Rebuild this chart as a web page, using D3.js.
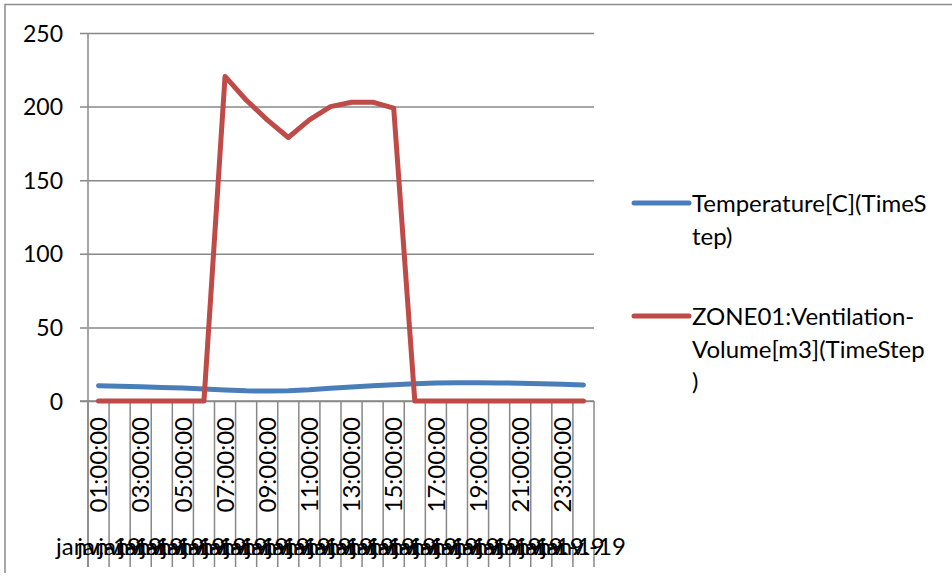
<!DOCTYPE html>
<html>
<head>
<meta charset="utf-8">
<script src="https://cdn.jsdelivr.net/npm/d3@7"></script>
<style>
  html, body { margin: 0; padding: 0; background: #fff; }
  svg { display: block; }
  text { font-family: Lato, "Open Sans", sans-serif; fill: #000; }
</style>
</head>
<body>
<svg id="chart" width="952" height="578"></svg>
<script>
// Hourly categories (inner level) and their date (outer level)
const hours = ["01:00:00","02:00:00","03:00:00","04:00:00","05:00:00","06:00:00",
  "07:00:00","08:00:00","09:00:00","10:00:00","11:00:00","12:00:00",
  "13:00:00","14:00:00","15:00:00","16:00:00","17:00:00","18:00:00",
  "19:00:00","20:00:00","21:00:00","22:00:00","23:00:00","24:00:00"];
const dates = ["janv.-19","janv.-19","janv.-19","janv.-19","janv.-19","janv.-19",
  "janv.-19","janv.-19","janv.-19","janv.-19","janv.-19","janv.-19",
  "janv.-19","janv.-19","janv.-19","janv.-19","janv.-19","janv.-19",
  "janv.-19","janv.-19","janv.-19","janv.-19","janv.-19","janv.-19"];

// Series values
const temperature = [10.4, 10.0, 9.6, 9.2, 8.8, 8.1, 7.5, 6.9, 6.8, 7.0, 7.6, 8.6,
  9.5, 10.3, 11.0, 11.8, 12.2, 12.4, 12.4, 12.3, 12.1, 11.8, 11.4, 10.9];
const ventilation = [0, 0, 0, 0, 0, 0, 220.5, 204.5, 191, 179, 191, 200,
  203, 203, 199, 0, 0, 0, 0, 0, 0, 0, 0, 0];

const yTicks = [0, 50, 100, 150, 200, 250];

const seriesNames = ["Temperature[C](TimeStep)", "ZONE01:Ventilation-Volume[m3](TimeStep)"];
const legendLines = [
  ["Temperature[C](TimeS", "tep)"],
  ["ZONE01:Ventilation-", "Volume[m3](TimeStep", ")"]
];
const seriesColors = ["#4A7EBB", "#BE4B48"];

const svg = d3.select("#chart");
const gridColor = "#888888";
const tickFont = 23;
const labelFont = 24;

// Outer chart frame
svg.append("path")
  .attr("d", "M5,573V4.5H952")
  .attr("fill", "none")
  .attr("stroke", "#8c8c8c")
  .attr("stroke-width", 1.5);

const plotLeft = 88, plotRight = 594, plotTop = 33, plotBottom = 401;

const x = d3.scaleBand().domain(hours).range([plotLeft, plotRight]).padding(0);
const xc = d => x(d) + x.bandwidth() / 2;
const y = d3.scaleLinear().domain([0, 250]).range([plotBottom, plotTop]);

// X axis baseline
svg.append("line")
  .attr("x1", plotLeft - 8).attr("x2", plotRight)
  .attr("y1", plotBottom).attr("y2", plotBottom)
  .attr("stroke", gridColor).attr("stroke-width", 1.5);

// Horizontal gridlines with small outside ticks
const yAxis = d3.axisLeft(y)
  .tickValues(yTicks)
  .tickSizeInner(-(plotRight - plotLeft))
  .tickSizeOuter(0)
  .tickPadding(25)
  .tickFormat(d3.format("d"));

const gy = svg.append("g")
  .attr("transform", `translate(${plotLeft},0)`)
  .call(yAxis);
gy.select(".domain").remove();
gy.selectAll(".tick line")
  .attr("x1", -8)
  .attr("stroke", gridColor)
  .attr("stroke-width", 1.5);
gy.selectAll(".tick text")
  .attr("font-size", tickFont)
  .attr("font-family", "Lato, 'Open Sans', sans-serif")
  .attr("fill", "#000")
  .attr("dy", "0.35em");

// Vertical axis line
svg.append("line")
  .attr("x1", plotLeft).attr("x2", plotLeft)
  .attr("y1", y(250)).attr("y2", 567)
  .attr("stroke", gridColor).attr("stroke-width", 1.5);

// Category separators running through the multi-level label area
const sepPositions = hours.map(h => x(h) + x.bandwidth()).concat([x(hours[0])]);
svg.append("g").selectAll("line")
  .data(sepPositions)
  .join("line")
  .attr("x1", d => d).attr("x2", d => d)
  .attr("y1", plotBottom).attr("y2", 567)
  .attr("stroke", gridColor).attr("stroke-width", 1.5);

// Hour labels (every second category), rotated
svg.append("g").selectAll("text")
  .data(hours.filter((h, i) => i % 2 === 0))
  .join("text")
  .attr("transform", d => `translate(${xc(d)},417) rotate(-90)`)
  .attr("text-anchor", "end")
  .attr("dy", "0.36em")
  .attr("font-size", labelFont)
  .text(d => d);

// Date labels (outer level), one per category
svg.append("g").selectAll("text")
  .data(hours)
  .join("text")
  .attr("x", d => xc(d))
  .attr("y", 555)
  .attr("text-anchor", "middle")
  .attr("font-size", labelFont)
  .text((d, i) => dates[i]);

// Series lines
const line = d3.line()
  .x((d, i) => xc(hours[i]))
  .y(d => y(d));

[temperature, ventilation].forEach((vals, k) => {
  svg.append("path")
    .datum(vals)
    .attr("d", line)
    .attr("fill", "none")
    .attr("stroke", seriesColors[k])
    .attr("stroke-width", 5)
    .attr("stroke-linejoin", "round")
    .attr("stroke-linecap", "round");
});

// Legend
const legendY = [203, 316];
const legend = svg.append("g").selectAll("g")
  .data(seriesNames)
  .join("g")
  .attr("transform", (d, i) => `translate(0,${legendY[i]})`);
legend.append("line")
  .attr("x1", 634).attr("x2", 689)
  .attr("y1", 0).attr("y2", 0)
  .attr("stroke", (d, i) => seriesColors[i])
  .attr("stroke-width", 5)
  .attr("stroke-linecap", "round");
legend.append("text")
  .attr("x", 692)
  .attr("y", 9)
  .attr("font-size", labelFont)
  .each(function (d, i) {
    d3.select(this).selectAll("tspan")
      .data(legendLines[i])
      .join("tspan")
      .attr("x", 692)
      .attr("dy", (t, j) => j === 0 ? 0 : 32.5)
      .text(t => t);
  });
</script>
</body>
</html>
